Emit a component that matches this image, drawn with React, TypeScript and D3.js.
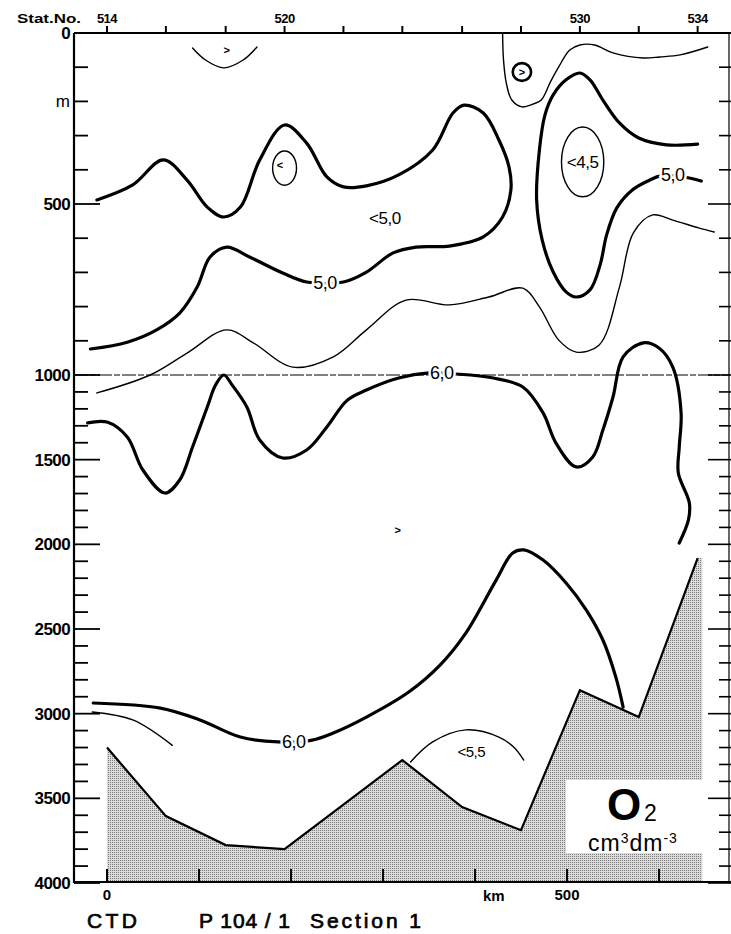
import React from 'react';
import * as d3 from 'd3';

type P = [number, number];

// Stations along the top axis (every second station ticked)
const stationNos = [514, 516, 518, 520, 522, 524, 526, 528, 530, 532, 534];
const stationKm = [0, 64, 129, 193, 257, 321, 386, 450, 514, 578, 642];
const labeledStations = [514, 520, 530, 534];

// Depth axis
const depthLabels = [0, 500, 1000, 1500, 2000, 2500, 3000, 3500, 4000];
const depthUnitAt = 200;
// Distance axis
const kmTicks = [0, 100, 200, 300, 400, 500, 600];
const kmLabels = [0, 500];

// Bottom topography (km, depth m)
const bathymetry: P[] = [
  [0, 3200], [64, 3605], [129, 3776], [193, 3800], [321, 3274], [386, 3552],
  [450, 3688], [514, 2861], [578, 3020], [642, 2081], [647, 2081],
];

// Contours (km, depth m)
const o2_50_west: P[] = [
  [-11, 488], [28, 444], [61, 371], [87, 430], [109, 509], [127, 538], [145, 509],
  [166, 371], [193, 269], [217, 322], [239, 421], [257, 450], [282, 447], [317, 415],
  [354, 342], [376, 234], [388, 211], [409, 234], [426, 313], [437, 392], [439, 459],
  [430, 538], [409, 596], [372, 623], [336, 626], [311, 643], [282, 699], [257, 728],
  [217, 728], [191, 702], [155, 655], [130, 626], [112, 655], [98, 743], [79, 819],
  [54, 868], [22, 904], [-18, 924],
];
const o2_55_upper: P[] = [
  [-11, 1106], [47, 1000], [87, 936], [130, 868], [159, 906], [202, 977], [246, 947],
  [282, 868], [325, 781], [372, 795], [415, 772], [452, 746], [470, 801], [491, 898],
  [510, 933], [535, 912], [557, 743], [572, 585], [593, 532], [615, 547], [643, 570],
  [660, 582],
];
const o2_50_east: P[] = [
  [642, 325], [608, 327], [578, 307], [557, 263], [539, 196], [525, 137], [514, 117],
  [499, 137], [485, 181], [476, 240], [470, 342], [467, 488], [473, 605], [485, 699],
  [499, 757], [510, 772], [525, 751], [536, 678], [543, 591], [554, 512], [571, 459],
  [590, 430], [602, 418], [633, 424], [646, 433],
];
const o2_55_surface: P[] = [
  [430, 0], [431, 79], [434, 146], [440, 196], [451, 216], [463, 208], [472, 196],
  [482, 143], [491, 99], [503, 50], [514, 35], [530, 35], [550, 58], [583, 73],
  [601, 70], [623, 64], [653, 41],
];
const o2_55_cap: P[] = [[93, 44], [107, 79], [127, 102], [148, 79], [163, 41]];
const o2_60_mid: P[] = [
  [-21, 1283], [0, 1278], [22, 1366], [39, 1561], [63, 1697], [79, 1620], [93, 1425],
  [109, 1189], [118, 1059], [127, 1000], [136, 1059], [152, 1189], [166, 1384],
  [191, 1490], [217, 1443], [239, 1307], [261, 1150], [282, 1089], [317, 1018],
  [350, 994], [379, 997], [420, 1018], [452, 1071], [474, 1224], [488, 1402],
  [510, 1543], [528, 1484], [539, 1325], [550, 1130], [561, 947], [583, 906],
  [600, 921], [615, 977], [624, 1224], [622, 1425], [621, 1579], [633, 1756],
  [632, 1856], [622, 1992],
];
const o2_60_deep: P[] = [
  [-15, 2937], [58, 2967], [101, 3037], [145, 3138], [186, 3167], [223, 3156],
  [246, 3114], [282, 3020], [328, 2872], [362, 2713], [390, 2524], [423, 2211],
  [441, 2051], [453, 2033], [474, 2093], [499, 2228], [521, 2388], [539, 2565],
  [553, 2783], [561, 2961],
];
const o2_deep_west: P[] = [[-16, 2990], [28, 3037], [71, 3187]];
const o2_55_deep: P[] = [[330, 3285], [354, 3167], [390, 3096], [426, 3138], [442, 3197], [453, 3274]];

// Closed cells: [km, depth, radius km, radius m]
const cellSmallWest = [193, 395, 13, 50];
const cellLow45 = [517, 377, 23, 102];
const cellLoopEast = [451, 114, 10, 26];

// Contour labels
const contourLabels: { t: string; km: number; d: number; size: number }[] = [
  { t: '5,0', km: 237, d: 731, size: 18 },
  { t: '5,0', km: 615, d: 415, size: 18 },
  { t: '6,0', km: 364, d: 994, size: 18 },
  { t: '6,0', km: 203, d: 3167, size: 18 },
  { t: '<5,0', km: 302, d: 541, size: 17 },
  { t: '<4,5', km: 517, d: 377, size: 17 },
  { t: '<5,5', km: 396, d: 3226, size: 15 },
];
const markers: { t: string; km: number; d: number }[] = [
  { t: '>', km: 130, d: 50 },
  { t: '<', km: 188, d: 385 },
  { t: '>', km: 451, d: 114 },
  { t: '>', km: 316, d: 1915 },
];

export default function App() {
  const x = d3.scaleLinear().domain([0, 600]).range([107, 659]);
  const y = d3.scaleLinear().domain([0, 1000, 4000]).range([33, 375, 883]);
  const X0 = 74, X1 = 729, YT = 33, YB = 882;

  const smooth = d3.line<P>().x(d => x(d[0])).y(d => y(d[1])).curve(d3.curveCatmullRom.alpha(0.5));
  const straight = d3.line<P>().x(d => x(d[0])).y(d => y(d[1]));

  const thick = 3.2, thin = 1.4;
  const contours: { pts: P[]; w: number }[] = [
    { pts: o2_50_west, w: thick },
    { pts: o2_55_upper, w: thin },
    { pts: o2_50_east, w: thick },
    { pts: o2_55_surface, w: thin },
    { pts: o2_55_cap, w: thin },
    { pts: o2_60_mid, w: thick },
    { pts: o2_60_deep, w: thick },
    { pts: o2_deep_west, w: thin },
    { pts: o2_55_deep, w: thin },
  ];

  const last = bathymetry[bathymetry.length - 1];
  const bathyPoly: P[] = [...bathymetry, [last[0], 4000], [bathymetry[0][0], 4000]];

  const minorDepths = d3.range(0, 4001, 100);
  const font = "'Liberation Sans', Arial, Helvetica, sans-serif";

  const ell = (c: number[], w: number) => (
    <ellipse cx={x(c[0])} cy={y(c[1])} rx={x(c[0] + c[2]) - x(c[0])} ry={y(c[1] + c[3]) - y(c[1])}
      fill="none" stroke="#000" strokeWidth={w} />
  );

  return (
    <svg width={731} height={934} style={{ position: 'absolute', left: 0, top: 0, background: '#fff' }}
      fontFamily={font}>
      <defs>
        <pattern id="stip" width={2} height={2} patternUnits="userSpaceOnUse">
          <rect width={2} height={2} fill="#dcdcdc" />
          <rect width={1} height={1} fill="#7a7a7a" />
        </pattern>
      </defs>
      <rect width={731} height={934} fill="#fff" />

      {/* bathymetry */}
      <path d={straight(bathyPoly) + 'Z'} fill="url(#stip)" />
      <path d={straight(bathymetry.slice(0, -1)) || ''} fill="none" stroke="#000" strokeWidth={2.2} strokeLinejoin="miter" />

      {/* legend box */}
      <rect x={566} y={780} width={137} height={73} fill="#fff" />
      <text x={607} y={820} fontSize={44} fontWeight="bold">O</text>
      <text x={644} y={821} fontSize={23}>2</text>
      <text x={588} y={851} fontSize={23} letterSpacing={1}>
        cm<tspan fontSize={14} dy={-8}>3</tspan><tspan dy={8}>dm</tspan><tspan fontSize={14} dy={-8}>-3</tspan>
      </text>

      {/* 1000 m reference line */}
      <line x1={X0} x2={X1} y1={y(1000)} y2={y(1000)} stroke="#000" strokeWidth={1.2} strokeDasharray="14 2 6 2" />

      {/* contours */}
      {contours.map((c, i) => (
        <path key={i} d={smooth(c.pts) || ''} fill="none" stroke="#000" strokeWidth={c.w}
          strokeLinecap="round" strokeLinejoin="round" />
      ))}
      {ell(cellSmallWest, thin)}
      {ell(cellLow45, thin)}
      {ell(cellLoopEast, 2.6)}

      {contourLabels.map((l, i) => (
        <text key={i} x={x(l.km)} y={y(l.d)} dy="0.36em" textAnchor="middle" fontSize={l.size}
          stroke="#fff" strokeWidth={5} paintOrder="stroke" fill="#000" letterSpacing={-0.5}>{l.t}</text>
      ))}
      {markers.map((m, i) => (
        <text key={i} x={x(m.km)} y={y(m.d)} dy="0.35em" textAnchor="middle" fontSize={11} fontWeight="bold">{m.t}</text>
      ))}

      {/* frame */}
      <line x1={X0} x2={731} y1={YT} y2={YT} stroke="#000" strokeWidth={2} />
      <line x1={X0} x2={X0} y1={YT} y2={YB + 1} stroke="#000" strokeWidth={2.2} />
      <line x1={X0} x2={731} y1={YB} y2={YB} stroke="#000" strokeWidth={2.2} />
      <line x1={X1} x2={X1} y1={YT} y2={YB} stroke="#000" strokeWidth={1.2} />

      {/* depth ticks left and right */}
      {minorDepths.map(d => {
        const major = d % 500 === 0;
        return (
          <g key={d}>
            <line x1={X0} x2={X0 + (major ? 26 : 14)} y1={y(d)} y2={y(d)} stroke="#000" strokeWidth={1.8} />
            <line x1={731} x2={X1 - (major ? 21 : 10)} y1={y(d)} y2={y(d)} stroke="#000" strokeWidth={1.6} />
          </g>
        );
      })}
      {depthLabels.map(d => (
        <text key={d} x={70} y={y(d)} dy="0.36em" textAnchor="end" fontSize={17} fontWeight="bold" letterSpacing={-0.6}>{d}</text>
      ))}
      <text x={70} y={y(depthUnitAt)} dy="0.3em" textAnchor="end" fontSize={17}>m</text>

      {/* station ticks */}
      {stationKm.map((k, i) => (
        <line key={i} x1={x(k)} x2={x(k)} y1={YT} y2={YT - 7} stroke="#000" strokeWidth={2} />
      ))}
      {stationNos.map((s, i) => labeledStations.includes(s) ? (
        <text key={s} x={x(stationKm[i])} y={23} textAnchor="middle" fontSize={13} fontWeight="bold" letterSpacing={-0.5}>{s}</text>
      ) : null)}
      <text x={17} y={23} fontSize={13} fontWeight="bold" textLength={64} lengthAdjust="spacingAndGlyphs">Stat.No.</text>

      {/* km ticks */}
      {kmTicks.map(k => (
        <line key={k} x1={x(k)} x2={x(k)} y1={YB} y2={YB - 13} stroke="#000" strokeWidth={2} />
      ))}
      {kmLabels.map(k => (
        <text key={k} x={x(k)} y={900} textAnchor="middle" fontSize={15} fontWeight="bold">{k}</text>
      ))}
      <text x={483} y={901} fontSize={15} fontWeight="bold">km</text>

      {/* titles */}
      <text x={87} y={928} fontSize={21} stroke="#000" strokeWidth={0.7} textLength={50} lengthAdjust="spacing">CTD</text>
      <text x={199} y={928} fontSize={21} stroke="#000" strokeWidth={0.7} textLength={91} lengthAdjust="spacing">P 104 / 1</text>
      <text x={310} y={928} fontSize={21} stroke="#000" strokeWidth={0.7} textLength={111} lengthAdjust="spacing">Section 1</text>
    </svg>
  );
}
